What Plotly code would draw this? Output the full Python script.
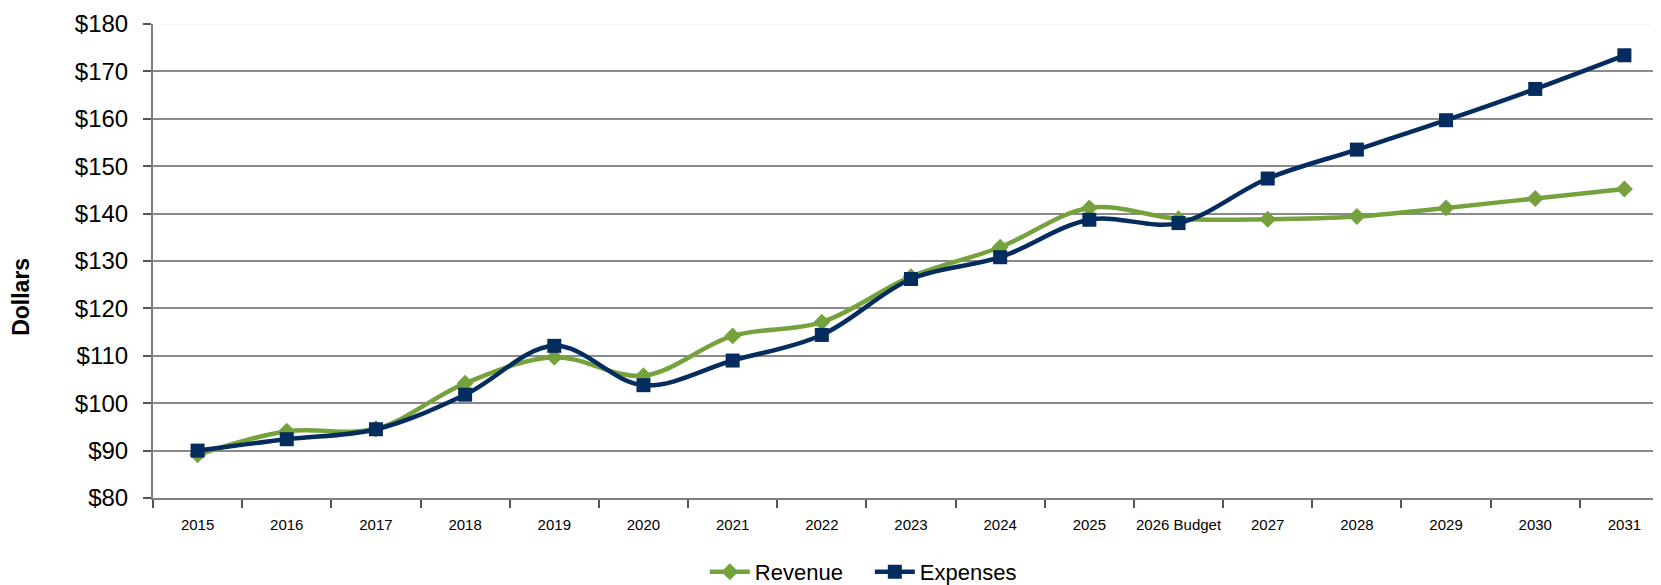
import plotly.graph_objects as go

categories = ["2015", "2016", "2017", "2018", "2019", "2020", "2021", "2022", "2023",
              "2024", "2025", "2026 Budget", "2027", "2028", "2029", "2030", "2031"]
revenue = [89.1, 94.1, 94.6, 104.2, 109.7, 105.8, 114.2, 117.1, 126.7,
           132.9, 141.2, 138.9, 138.8, 139.4, 141.2, 143.2, 145.2]
expenses = [90.0, 92.4, 94.5, 101.8, 112.1, 103.8, 109.0, 114.4, 126.2,
            130.8, 138.7, 138.0, 147.4, 153.5, 159.7, 166.3, 173.4]
y_ticks = [80, 90, 100, 110, 120, 130, 140, 150, 160, 170, 180]
y_tick_labels = ["$" + str(v) for v in y_ticks]

GREEN = "#76A23E"
NAVY = "#042C5E"
FONT = "Liberation Sans, Arial, sans-serif"

fig = go.Figure()
fig.add_trace(go.Scatter(
    x=categories, y=revenue, name="Revenue", mode="lines+markers",
    line=dict(color=GREEN, width=4.5, shape="spline", smoothing=1.0),
    marker=dict(symbol="diamond", size=13, color=GREEN),
))
fig.add_trace(go.Scatter(
    x=categories, y=expenses, name="Expenses", mode="lines+markers",
    line=dict(color=NAVY, width=4.5, shape="spline", smoothing=1.0),
    marker=dict(symbol="square", size=14, color=NAVY),
))

fig.update_layout(
    width=1661, height=585,
    margin=dict(l=145, r=0, t=16, b=89, pad=0),
    paper_bgcolor="white", plot_bgcolor="white",
    font=dict(family=FONT, color="#000000"),
    showlegend=True,
    legend=dict(orientation="h", x=0.364, xanchor="left", y=-0.157, yanchor="middle",
                font=dict(size=22, family=FONT, color="#000000"),
                entrywidth=110, entrywidthmode="pixels",
                itemwidth=40, traceorder="normal", bgcolor="rgba(0,0,0,0)"),
    xaxis=dict(
        type="category", categoryorder="array", categoryarray=categories,
        range=[-0.5, len(categories) - 0.5],
        showgrid=False, showline=True, linecolor="#7f7f7f", linewidth=2,
        ticks="outside", tickson="boundaries", ticklen=8, tickcolor="#555555", tickwidth=1.5,
        tickfont=dict(size=15, family=FONT, color="#000000"), tickangle=0,
        ticklabelstandoff=12, zeroline=False, automargin=False,
    ),
    yaxis=dict(
        range=[80, 180], tickvals=y_ticks, ticktext=y_tick_labels,
        showgrid=True, gridcolor="#8a8a8a", gridwidth=1.5,
        showline=True, linecolor="#7f7f7f", linewidth=2,
        ticks="outside", ticklen=8, tickcolor="#555555", tickwidth=1.5,
        tickfont=dict(size=24, family=FONT, color="#000000"),
        ticklabelstandoff=10, zeroline=False, automargin=False,
    ),
    annotations=[dict(text="<b>Dollars</b>", xref="paper", yref="paper",
                      x=-145/1516 + 21/1516, y=(495.7 - 292) / 480,
                      xanchor="center", yanchor="middle",
                      xshift=-8, textangle=-90, showarrow=False,
                      font=dict(size=23, family=FONT, color="#000000"))],
    shapes=[dict(type="line", xref="paper", yref="y", x0=0.002, x1=1, y0=180, y1=180,
                 line=dict(color="#f6f6f6", width=2), layer="above")],
)

fig.write_html("out.html")
